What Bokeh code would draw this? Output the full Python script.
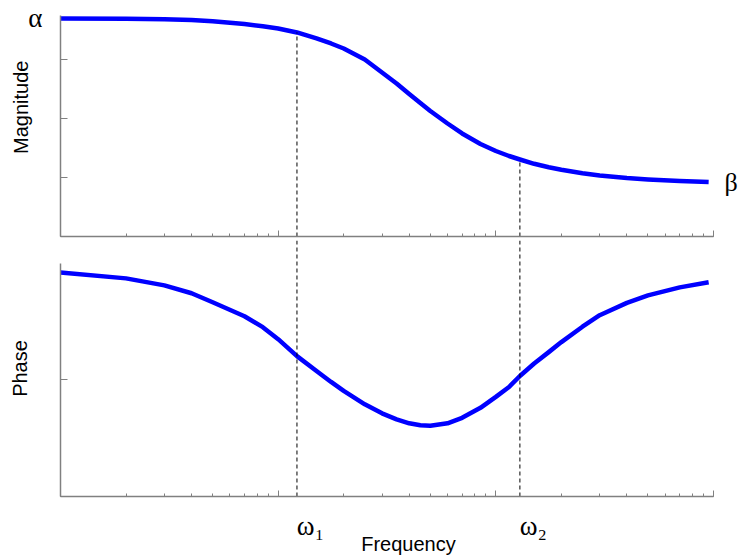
import math
from bokeh.plotting import figure
from bokeh.layouts import column
from bokeh.models import Range1d, LogTicker, FixedTicker, LinearAxis, LogAxis
from bokeh.embed import file_html
from bokeh.resources import INLINE

# ---- data ----
freq = [1, 2, 3, 4, 5, 7, 8.5, 10, 12.2, 15, 17.5, 20, 25, 30, 35, 40, 45, 50, 60, 70,
        85, 100, 115, 129, 150, 175, 200, 250, 300, 400, 500, 700, 950]
magnitude = [3.695, 3.690, 3.681, 3.668, 3.647, 3.600, 3.563, 3.525, 3.458, 3.356, 3.271,
             3.186, 3.000, 2.780, 2.593, 2.415, 2.263, 2.127, 1.915, 1.746, 1.568, 1.449,
             1.364, 1.305, 1.232, 1.173, 1.132, 1.073, 1.034, 0.990, 0.966, 0.939, 0.922]
phase = [1.923, 1.872, 1.812, 1.744, 1.667, 1.547, 1.453, 1.350, 1.205, 1.077, 0.983,
         0.906, 0.791, 0.714, 0.662, 0.628, 0.611, 0.607, 0.628, 0.675, 0.761, 0.855,
         0.940, 1.034, 1.141, 1.239, 1.325, 1.457, 1.556, 1.662, 1.726, 1.795, 1.838]
omega = [12.2, 129.0]
omega_labels = ["\u2003\u03c9\u2081", "\u2003\u03c9\u2082"]
mag_at_omega = [3.458, 1.305]
mag_ticks = [1, 2, 3]
phase_ticks = [1]
x_limits = (1, 1000)
mag_limits = (0, 3.83)
mag_axis_bounds = (0, 3.75)
phase_limits = (0, 2.197)
phase_axis_bounds = (0, 2.0)

AXIS_COLOR = "#808080"
BLUE = "#0000ff"
SANS = "Liberation Sans"
SERIF = "Liberation Serif"
MAG_LABEL_AT = 2.19   # vertical position of the "Magnitude" title (magnitude units)

xr = Range1d(*x_limits)


def style(p, yticks, ybounds):
    p.outline_line_color = None
    p.grid.visible = False
    xa = p.xaxis[0]
    xa.ticker = LogTicker(num_minor_ticks=10)
    xa.major_label_text_font_size = "2px"
    xa.major_label_text_alpha = 0
    xa.major_label_standoff = 0
    xa.major_tick_in = 6
    xa.major_tick_out = 0
    xa.minor_tick_in = 3
    xa.minor_tick_out = 0
    xa.axis_line_color = AXIS_COLOR
    xa.axis_line_width = 1.5
    xa.major_tick_line_color = AXIS_COLOR
    xa.minor_tick_line_color = AXIS_COLOR
    ya = p.yaxis[0]
    ya.ticker = FixedTicker(ticks=yticks)
    ya.major_label_text_font_size = "2px"
    ya.major_label_text_alpha = 0
    ya.major_label_standoff = 0
    ya.major_tick_in = 7
    ya.major_tick_out = 0
    ya.minor_tick_line_color = None
    ya.axis_line_color = AXIS_COLOR
    ya.axis_line_width = 1.5
    ya.major_tick_line_color = AXIS_COLOR
    ya.bounds = ybounds


def text_axis(cls, ticks, labels, font, size, standoff, orientation="horizontal"):
    ax = cls(ticker=FixedTicker(ticks=ticks),
             major_label_overrides={t: s for t, s in zip(ticks, labels)})
    ax.axis_line_color = None
    ax.major_tick_line_color = None
    ax.minor_tick_line_color = None
    ax.major_tick_in = 0
    ax.major_tick_out = 0
    ax.minor_tick_in = 0
    ax.minor_tick_out = 0
    ax.major_label_standoff = standoff
    ax.major_label_text_font = font
    ax.major_label_text_font_size = size
    ax.major_label_text_color = "black"
    ax.major_label_orientation = orientation
    return ax


# ---------------- magnitude panel ----------------
top = figure(width=740, height=240, x_axis_type="log", x_range=xr,
             y_range=Range1d(*mag_limits), output_backend="svg",
             toolbar_location=None, min_border_left=60, min_border_right=24,
             min_border_top=10, min_border_bottom=4)
style(top, mag_ticks, mag_axis_bounds)
top.line(freq, magnitude, line_color=BLUE, line_width=4.5, line_join="round")
top.segment(x0=omega, y0=[mag_limits[0]] * len(omega), x1=omega, y1=mag_at_omega,
            line_color="black", line_width=1, line_dash="4 3")
top.add_layout(text_axis(LinearAxis, [magnitude[0]], ["\u03b1"], SERIF, "27px", 18), "left")
top.add_layout(text_axis(LinearAxis, [MAG_LABEL_AT], ["Magnitude"], SANS, "20px", -7,
                         orientation="parallel"), "left")
top.add_layout(text_axis(LinearAxis, [magnitude[-1]], ["\u03b2"], SERIF, "26px", 11), "right")

# ---------------- phase panel ----------------
bot = figure(width=740, height=317, x_axis_type="log", x_range=xr,
             y_range=Range1d(*phase_limits), output_backend="svg",
             toolbar_location=None, min_border_left=60, min_border_right=24,
             min_border_top=0, min_border_bottom=60)
style(bot, phase_ticks, phase_axis_bounds)
bot.yaxis[0].axis_label = "Phase"
bot.yaxis[0].axis_label_text_font = SANS
bot.yaxis[0].axis_label_text_font_size = "20px"
bot.yaxis[0].axis_label_text_font_style = "normal"
bot.yaxis[0].axis_label_text_color = "black"
bot.yaxis[0].axis_label_standoff = 30
bot.line(freq, phase, line_color=BLUE, line_width=4.5, line_join="round")
bot.segment(x0=omega, y0=[phase_limits[0]] * len(omega), x1=omega,
            y1=[phase_limits[1]] * len(omega),
            line_color="black", line_width=1, line_dash="4 3")
bot.add_layout(text_axis(LogAxis, omega, omega_labels, SERIF, "27px", 14), "below")
bot.add_layout(text_axis(LogAxis, [math.sqrt(omega[0] * omega[1])], ["Frequency"],
                         SANS, "20px", -11), "below")

layout = column(top, bot, spacing=0)
open("out.html", "w").write(file_html(layout, INLINE))
